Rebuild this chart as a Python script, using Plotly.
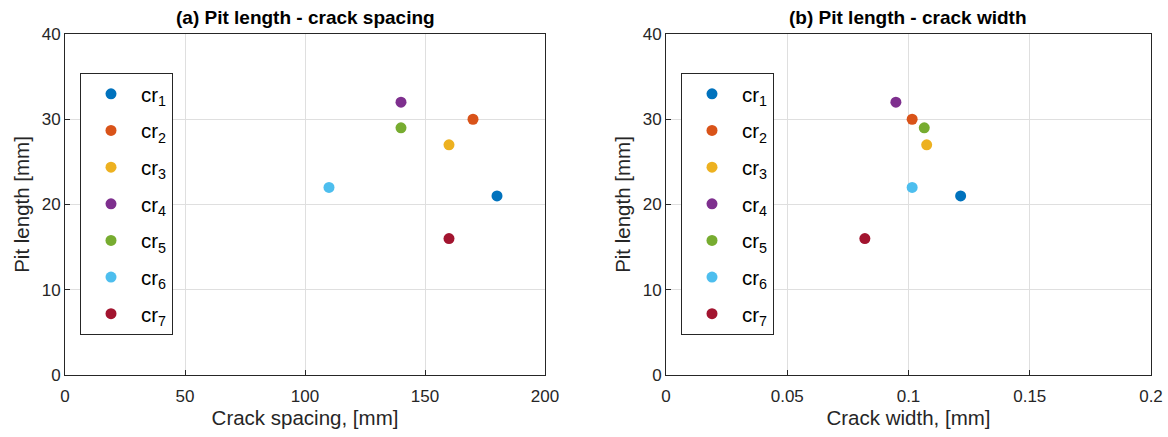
import plotly.graph_objects as go

labels = ["cr<sub>1</sub>", "cr<sub>2</sub>", "cr<sub>3</sub>", "cr<sub>4</sub>",
          "cr<sub>5</sub>", "cr<sub>6</sub>", "cr<sub>7</sub>"]
colors = ["#0072BD", "#D95319", "#EDB120", "#7E2F8E", "#77AC30", "#4DBEEE", "#A2142F"]
crack_spacing = [180, 170, 160, 140, 140, 110, 160]
crack_width = [0.1215, 0.1015, 0.1075, 0.0948, 0.1065, 0.1015, 0.082]
pit_length = [21, 30, 27, 32, 29, 22, 16]

W, H = 1168, 437
FONT = "Liberation Sans, Arial, Helvetica, sans-serif"
AX = "#262626"
GRID = "#dfdfdf"

fig = go.Figure()
for i in range(len(labels)):
    fig.add_trace(go.Scatter(x=[crack_spacing[i]], y=[pit_length[i]], mode="markers",
                             name=labels[i], marker=dict(color=colors[i], size=11),
                             legendgroup="a%d" % i, legend="legend",
                             xaxis="x", yaxis="y"))
for i in range(len(labels)):
    fig.add_trace(go.Scatter(x=[crack_width[i]], y=[pit_length[i]], mode="markers",
                             name=labels[i], marker=dict(color=colors[i], size=11),
                             legendgroup="b%d" % i, legend="legend2",
                             xaxis="x2", yaxis="y2"))

y_dom = [1 - 375 / H, 1 - 34 / H]
ax_common = dict(showline=True, linecolor=AX, linewidth=1, mirror=True,
                 ticks="inside", ticklen=5, tickcolor=AX, showgrid=True,
                 gridcolor=GRID, zeroline=False,
                 tickfont=dict(family=FONT, size=17, color=AX),
                 title_font=dict(family=FONT, size=20.5, color=AX))
x_extra = dict(ticklabelstandoff=6)

legend_common = dict(bgcolor="white", bordercolor=AX, borderwidth=1,
                     font=dict(family=FONT, size=20.5, color="#000000"),
                     xanchor="left", yanchor="top", tracegroupgap=7,
                     itemwidth=50)

fig.update_layout(
    width=W, height=H, margin=dict(l=0, r=0, t=0, b=0, autoexpand=False),
    paper_bgcolor="white", plot_bgcolor="white",
    xaxis=dict(domain=[65 / W, 545 / W], range=[0, 200], dtick=50, anchor="y",
               title=dict(text="Crack spacing, [mm]", standoff=5), **ax_common, **x_extra),
    yaxis=dict(domain=y_dom, range=[0, 40], dtick=10, anchor="x",
               title=dict(text="Pit length [mm]", standoff=6), **ax_common),
    xaxis2=dict(domain=[666 / W, 1151 / W], range=[0, 0.2], dtick=0.05, anchor="y2",
                tickformat="~g",
                title=dict(text="Crack width, [mm]", standoff=5), **ax_common, **x_extra),
    yaxis2=dict(domain=y_dom, range=[0, 40], dtick=10, anchor="x2",
                title=dict(text="Pit length [mm]", standoff=6), **ax_common),
    legend=dict(x=80 / W, y=1 - 73 / H, **legend_common),
    legend2=dict(x=681 / W, y=1 - 73 / H, **legend_common),
    annotations=[
        dict(text="<b>(a) Pit length - crack spacing</b>", x=305 / W, y=1 - 18 / H,
             xref="paper", yref="paper", showarrow=False, xanchor="center", yanchor="middle",
             font=dict(family=FONT, size=19, color="#000000")),
        dict(text="<b>(b) Pit length - crack width</b>", x=908 / W, y=1 - 18 / H,
             xref="paper", yref="paper", showarrow=False, xanchor="center", yanchor="middle",
             font=dict(family=FONT, size=19, color="#000000")),
    ],
)

fig.write_html("out.html")
